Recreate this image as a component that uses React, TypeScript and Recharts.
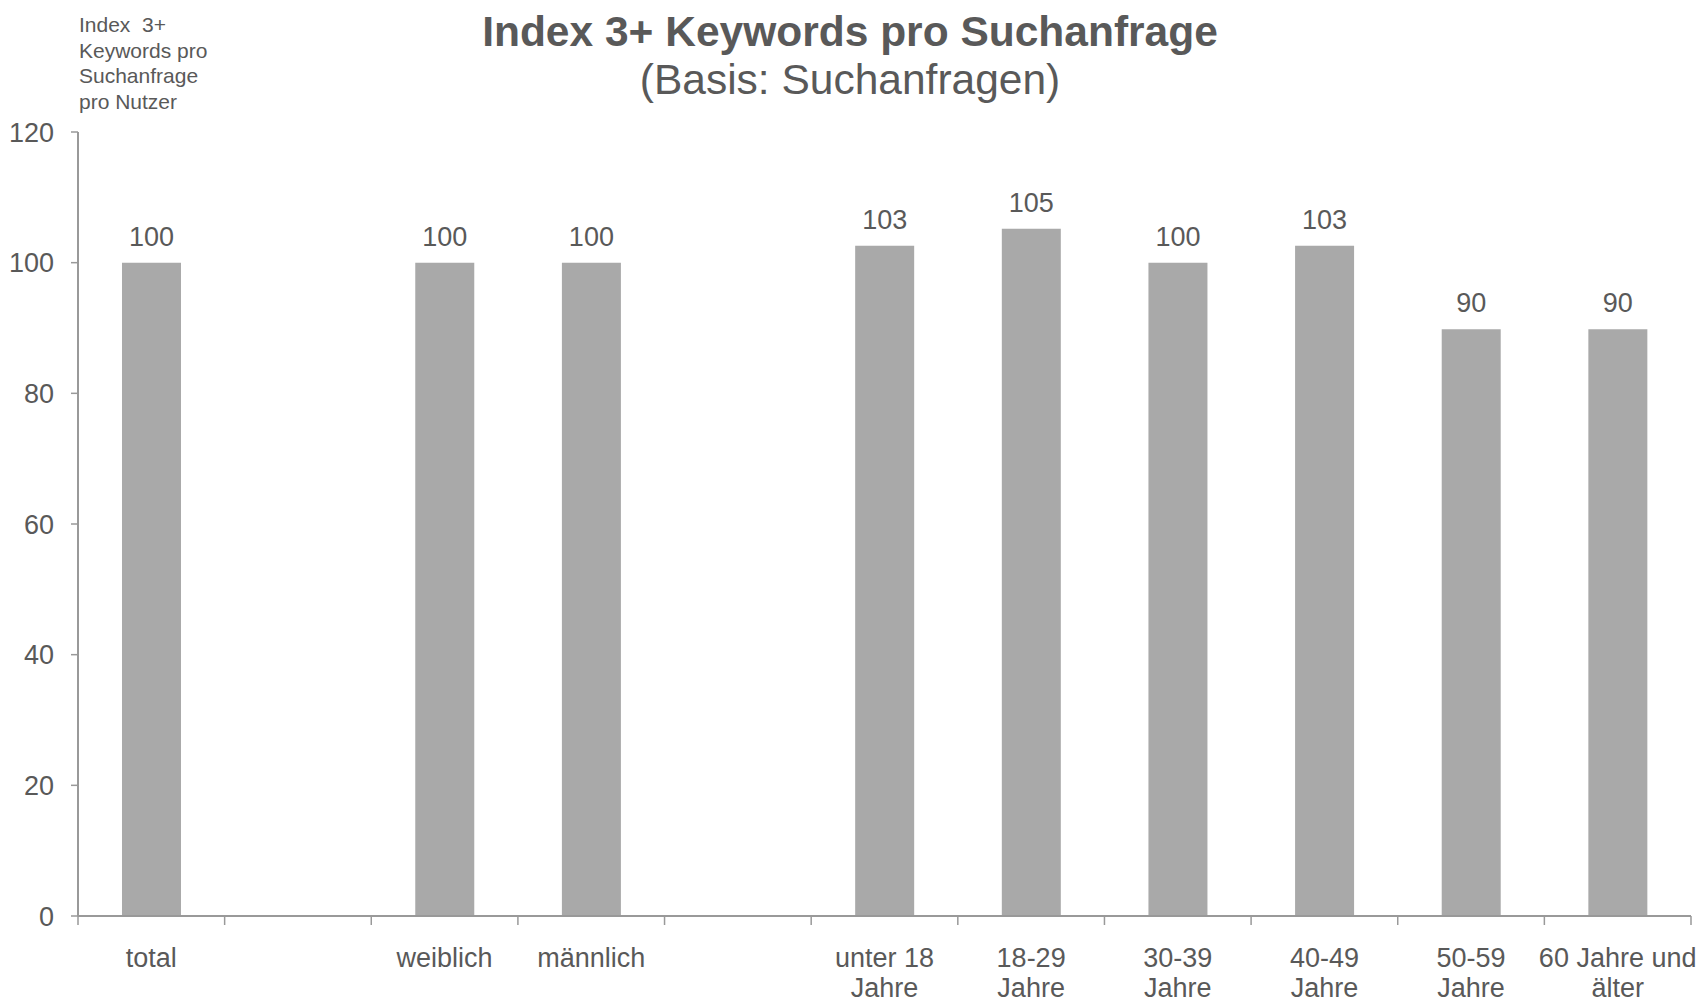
import { Bar, BarChart, LabelList, XAxis, YAxis } from "recharts";

const categories = [
  "total",
  "",
  "weiblich",
  "männlich",
  "",
  "unter 18\nJahre",
  "18-29\nJahre",
  "30-39\nJahre",
  "40-49\nJahre",
  "50-59\nJahre",
  "60 Jahre und\nälter",
];
const values: (number | null)[] = [100, null, 100, 100, null, 102.6, 105.2, 100, 102.6, 89.8, 89.8];
const yTicks = [0, 20, 40, 60, 80, 100, 120];
const axisNote = ["Index\u00A0 3+", "Keywords pro", "Suchanfrage", "pro Nutzer"];

const TEXT = "#595959";
const BAR = "#A9A9A9";
const AXIS = "#999999";
const FONT = "'Liberation Sans', Arial, sans-serif";

const data = categories.map((name, i) => ({ name, value: values[i] }));

// category label + Excel-style tick marks on the band boundaries
function CategoryTick(props: any) {
  const { x, y, payload, index } = props;
  const half = payload.offset ?? 0;
  const axisY = y - 2;
  const lines = String(payload.value).split("\n");
  const isLast = index === categories.length - 1;
  return (
    <g>
      <line x1={x - half} x2={x - half} y1={axisY} y2={axisY + 9} stroke={AXIS} strokeWidth={1.5} />
      {isLast && <line x1={x + half} x2={x + half} y1={axisY} y2={axisY + 9} stroke={AXIS} strokeWidth={1.5} />}
      <text x={x} y={y} textAnchor="middle" fill={TEXT} fontSize={27} fontFamily={FONT}>
        {lines.map((l, i) => (
          <tspan key={i} x={x} y={axisY + 51 + i * 30}>
            {l}
          </tspan>
        ))}
      </text>
    </g>
  );
}

export default function App() {
  return (
    <div style={{ position: "absolute", left: 0, top: 0, background: "#fff" }}>
      <BarChart
        width={1699}
        height={999}
        data={data}
        margin={{ top: 132, right: 8, bottom: 0, left: 0 }}
        barCategoryGap="30%"
        style={{ fontFamily: FONT }}
      >
        <text x={850} y={46} textAnchor="middle" fill={TEXT} fontSize={42.5} fontWeight="bold" fontFamily={FONT}>
          Index 3+ Keywords pro Suchanfrage
        </text>
        <text x={850} y={94} textAnchor="middle" fill={TEXT} fontSize={42.5} fontFamily={FONT}>
          (Basis: Suchanfragen)
        </text>
        {axisNote.map((l, i) => (
          <text key={i} x={79} y={32 + i * 25.6} fill={TEXT} fontSize={21} fontFamily={FONT}>
            {l}
          </text>
        ))}
        <XAxis
          dataKey="name"
          interval={0}
          tickLine={false}
          tickSize={0}
          tickMargin={2}
          axisLine={{ stroke: AXIS, strokeWidth: 2 }}
          tick={<CategoryTick />}
          height={83}
        />
        <YAxis
          width={78}
          domain={[0, 120]}
          ticks={yTicks}
          interval={0}
          tickSize={7}
          tickMargin={17}
          tick={{ fill: TEXT, fontSize: 27, fontFamily: FONT }}
          tickLine={{ stroke: AXIS, strokeWidth: 1.5 }}
          axisLine={{ stroke: AXIS, strokeWidth: 2 }}
        />
        <Bar dataKey="value" fill={BAR} isAnimationActive={false}>
          <LabelList
            dataKey="value"
            position="top"
            offset={17}
            formatter={(v: any) => (v == null ? "" : Math.round(v))}
            fill={TEXT}
            fontSize={27}
            fontFamily={FONT}
          />
        </Bar>
      </BarChart>
    </div>
  );
}
